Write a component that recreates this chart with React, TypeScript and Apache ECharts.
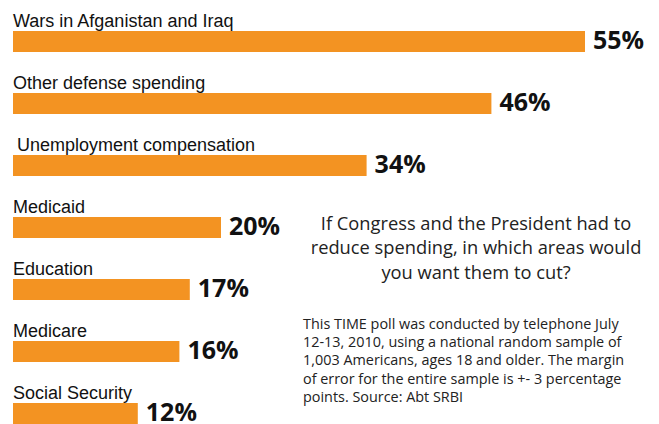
import React, { useEffect, useRef } from "react";
import * as echarts from "echarts";

const categories = [
  "Wars in Afganistan and Iraq",
  "Other defense spending",
  "Unemployment compensation",
  "Medicaid",
  "Education",
  "Medicare",
  "Social Security",
];
const values = [55, 46, 34, 20, 17, 16, 12];

const questionLines = [
  "If Congress and the President had to",
  "reduce spending, in which areas would",
  "you want them to cut?",
];
const noteLines = [
  "This TIME poll was conducted by telephone July",
  "12-13, 2010, using a national random sample of",
  "1,003 Americans, ages 18 and older. The margin",
  "of error for the entire sample is +- 3 percentage",
  "points. Source: Abt SRBI",
];

const ORANGE = "#F39322";

export default function App() {
  const ref = useRef<HTMLDivElement>(null);
  useEffect(() => {
    if (!ref.current) return;
    const chart = echarts.init(ref.current, undefined, { renderer: "svg" });
    const nameData = values.map((v, i) =>
      categories[i] === "Unemployment compensation"
        ? { value: v, label: { offset: [4, 0] } }
        : v
    );
    chart.setOption({
      animation: false,
      backgroundColor: "#ffffff",
      grid: {
        left: 13,
        top: 10.5,
        width: 624,
        height: 434,
        containLabel: false,
        outerBoundsMode: "none",
      },
      xAxis: { type: "value", min: 0, max: 60, show: false },
      yAxis: {
        type: "category",
        data: categories,
        inverse: true,
        show: false,
      },
      series: [
        {
          type: "bar",
          data: values,
          barWidth: 21,
          itemStyle: { color: ORANGE },
          label: {
            show: true,
            position: "right",
            distance: 8,
            offset: [0, -2.5],
            formatter: "{c}%",
            fontFamily: "Open Sans",
            fontWeight: "bold",
            fontSize: 25,
            lineHeight: 20,
            color: "#111111",
          },
        },
        {
          type: "bar",
          data: nameData,
          barWidth: 21,
          barGap: "-100%",
          silent: true,
          itemStyle: { color: "rgba(0,0,0,0)" },
          label: {
            show: true,
            position: [0, -1],
            align: "left",
            verticalAlign: "bottom",
            formatter: "{b}",
            fontFamily: "Liberation Sans",
            fontSize: 18,
            color: "#111111",
          },
        },
      ],
      graphic: [
        {
          type: "text",
          x: 476,
          y: 210,
          style: {
            text: questionLines.join("\n"),
            fontFamily: "Open Sans",
            fontSize: 18.3,
            lineHeight: 24.5,
            fill: "#222222",
            align: "center",
            verticalAlign: "top",
          },
        },
        {
          type: "text",
          x: 303,
          y: 314,
          style: {
            text: noteLines.join("\n"),
            fontFamily: "Open Sans",
            fontSize: 14.4,
            lineHeight: 18.3,
            fill: "#222222",
            align: "left",
            verticalAlign: "top",
          },
        },
      ],
    });
    return () => chart.dispose();
  }, []);
  return (
    <div
      ref={ref}
      style={{ position: "fixed", left: 0, top: 0, width: 659, height: 424 }}
    />
  );
}
